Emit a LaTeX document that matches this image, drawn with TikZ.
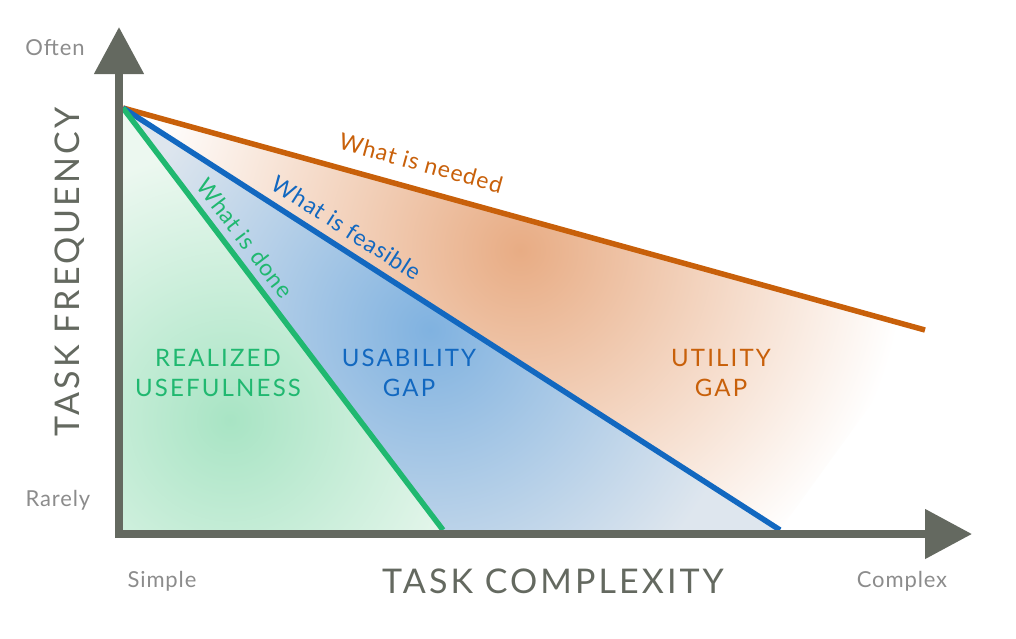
\documentclass[tikz,border=0pt]{standalone}
\usepackage{fontspec}
\setmainfont{Lato}
\newfontfamily\capsfont[LetterSpace=9]{Lato}
\newfontfamily\handfont[LetterSpace=4]{Lato}
\usetikzlibrary{arrows.meta,positioning}
\definecolor{axisgrey}{RGB}{100,105,96}
\definecolor{labelgrey}{RGB}{140,140,140}
\definecolor{needorange}{RGB}{200,96,10}
\definecolor{feasblue}{RGB}{18,104,192}
\definecolor{donegreen}{RGB}{32,184,112}
\definecolor{hazeorange}{RGB}{232,172,132}
\definecolor{hazeblue}{RGB}{128,178,224}
\definecolor{paleblue}{RGB}{222,230,238}
\definecolor{hazegreen}{RGB}{168,228,196}
\definecolor{palegreen}{RGB}{236,248,240}

\begin{document}
\begin{tikzpicture}[x=1pt, y=-1pt,
    axis/.style={line width=8pt, draw=axisgrey, -{Triangle[length=47pt, width=48pt]}},
    bound/.style={line width=5.5pt},
    ticklabel/.style={font=\handfont\fontsize{22}{24}\selectfont, text=labelgrey, inner sep=0pt},
    axislabel/.style={font=\capsfont\fontsize{34}{36}\selectfont, text=axisgrey, inner sep=0pt},
    linelabel/.style={font=\handfont\fontsize{23}{26}\selectfont, inner sep=0pt},
    gaplabel/.style={font=\capsfont\fontsize{24}{30}\selectfont, align=center, inner sep=0pt}
]
    \useasboundingbox (0,0) rectangle (1016,638);
    % corner points of the regions
    \coordinate (top) at (123,108);
    \coordinate (needend) at (925,330);
    \coordinate (feasend) at (780,530);
    \coordinate (doneend) at (443,530);
    \coordinate (corner) at (123,530);

    % Utility gap (orange haze)
    \begin{scope}
        \clip (top) -- (needend) -- (feasend) -- cycle;
        \shade[inner color=hazeorange, outer color=white] (520,250) circle (385);
    \end{scope}
    % Usability gap (blue)
    \begin{scope}
        \clip (top) -- (feasend) -- (doneend) -- cycle;
        \fill[paleblue] (top) -- (feasend) -- (doneend) -- cycle;
        \shade[inner color=hazeblue, outer color=paleblue] (430,330) circle (320);
    \end{scope}
    % Realized usefulness (green)
    \begin{scope}
        \clip (top) -- (doneend) -- (corner) -- cycle;
        \fill[palegreen] (top) -- (doneend) -- (corner) -- cycle;
        \shade[inner color=hazegreen, outer color=palegreen] (230,420) circle (270);
    \end{scope}

    % boundary lines
    \draw[bound, needorange] (top) -- (needend);
    \draw[bound, feasblue] (top) -- (feasend);
    \draw[bound, donegreen] (top) -- (doneend);

    % axes
    \coordinate (yfoot) at (119,538);
    \coordinate (ytip) at (119,27);
    \coordinate (xfoot) at (115,534);
    \coordinate (xtip) at (972,534);
    \draw[axis] (yfoot) -- (ytip);
    \draw[axis] (xfoot) -- (xtip);

    % axis texts
    \node[ticklabel] (often) at (55,48) {Often};
    \node[ticklabel] (rarely) at (58,500) {Rarely};
    \node[ticklabel] (simple) at (162,581) {Simple};
    \node[ticklabel] (complex) at (902,581) {Complex};
    \node[axislabel] (xlabel) at (553,581) {TASK COMPLEXITY};
    \node[axislabel, rotate=90] (ylabel) at (70,272) {TASK FREQUENCY};

    % line labels
    \node[linelabel, text=needorange, rotate=-15.4] (needlbl) at (421,163) {What is needed};
    \node[linelabel, text=feasblue, rotate=-32.6] (feaslbl) at (347,228) {What is feasible};
    \node[linelabel, text=donegreen, rotate=-52.6] (donelbl) at (245,238) {What is done};

    % region labels
    \node[gaplabel, text=donegreen] (realized) at (218,373) {REALIZED\\USEFULNESS};
    \node[gaplabel, text=feasblue] (usability) at (409,373) {USABILITY\\GAP};
    \node[gaplabel, text=needorange] (utility) at (721,373) {UTILITY\\GAP};
\end{tikzpicture}
\end{document}
